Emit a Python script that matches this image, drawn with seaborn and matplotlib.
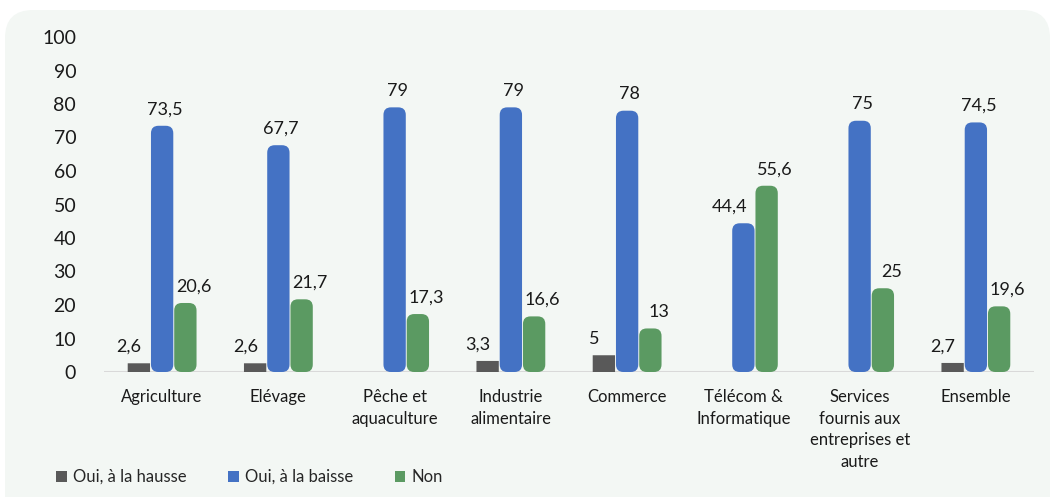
import numpy as np
import pandas as pd
import matplotlib
matplotlib.use("Agg")
import matplotlib.pyplot as plt
from matplotlib.patches import FancyBboxPatch, Patch
import seaborn as sns

categories = ["Agriculture", "Elévage", "Pêche et\naquaculture", "Industrie\nalimentaire",
              "Commerce", "Télécom &\nInformatique", "Services\nfournis aux\nentreprises et\nautre",
              "Ensemble"]
hausse = [2.6, 2.6, np.nan, 3.3, 5.0, np.nan, np.nan, 2.7]
baisse = [73.5, 67.7, 79.0, 79.0, 78.0, 44.4, 75.0, 74.5]
non = [20.6, 21.7, 17.3, 16.6, 13.0, 55.6, 25.0, 19.6]
series = ["Oui, à la hausse", "Oui, à la baisse", "Non"]
colors = ["#595959", "#4472C4", "#5B9A62"]
yticks = [0, 10, 20, 30, 40, 50, 60, 70, 80, 90, 100]

df = pd.DataFrame({
    "cat": categories * 3,
    "serie": [series[0]] * 8 + [series[1]] * 8 + [series[2]] * 8,
    "val": hausse + baisse + non,
})

sns.set_theme(style="white")
plt.rcParams["font.family"] = ["Lato", "DejaVu Sans"]

W, H = 1056, 497
fig = plt.figure(figsize=(W / 100, H / 100), dpi=100)
fig.patch.set_facecolor("white")

# rounded panel behind the chart
panel = FancyBboxPatch((5 / W, -30 / H), 1045 / W, 517 / H,
                       boxstyle="round,pad=0,rounding_size=%f" % (28 / W),
                       mutation_aspect=W / H, transform=fig.transFigure,
                       facecolor="#F3F7F4", edgecolor="none", zorder=-5)
fig.patches.append(panel)

x0, x1 = 104, 1034
y0, y1 = 372, 37
ax = fig.add_axes([x0 / W, 1 - y0 / H, (x1 - x0) / W, (y0 - y1) / H])
ax.set_facecolor("none")
ax.set_zorder(2)

sns.barplot(data=df, x="cat", y="val", hue="serie", hue_order=series,
            palette=colors, order=categories, width=0.6, gap=0.04,
            saturation=1, legend=False, ax=ax, errorbar=None)

ax.set_xlim(-0.5, 7.5)
ax.set_ylim(0, 100)

# pixel scale for rounded bar corners
px_x = (x1 - x0) / 8.0
px_y = (y0 - y1) / 100.0
radius_px = 7.5

# horizontal nudge of value labels per series (points)
label_dx = [-7, 2, 6]

for patch in list(ax.patches):
    h = patch.get_height()
    if not np.isfinite(h) or h <= 0:
        patch.set_visible(False)
        continue
    x, w = patch.get_x(), patch.get_width()
    fc = patch.get_facecolor()
    patch.set_visible(False)

    cx = x + w / 2
    gi = int(round(cx))
    si = int(round((cx - gi) / w)) + 1

    h_px = h * px_y
    r_px = 0.0 if si == 0 else min(radius_px, h_px / 2, w * px_x / 2)
    rb = FancyBboxPatch((x, 0), w, h,
                        boxstyle="round,pad=0,rounding_size=%f" % (r_px / px_x),
                        mutation_aspect=px_x / px_y,
                        facecolor=fc, edgecolor="none", zorder=3)
    ax.add_patch(rb)

    dx = label_dx[si]
    if si == 1 and non[gi] > h:
        dx = -10
    lbl = ("%g" % h).replace(".", ",")
    ax.annotate(lbl, (cx, h), xytext=(dx, 6), textcoords="offset points",
                ha="center", va="bottom", fontsize=13, color="#1a1a1a")

ax.axhline(0, color="#D9D9D9", lw=2.2, zorder=2)

ax.set_yticks(yticks)
ax.set_yticklabels([str(t) for t in yticks], fontsize=14, color="#1a1a1a")
ax.tick_params(axis="y", length=0, pad=20)
ax.tick_params(axis="x", length=0, pad=12)
ax.set_xticks(range(len(categories)))
ax.set_xticklabels(categories, fontsize=12, color="#1a1a1a", linespacing=1.45, va="top")
ax.set_xlabel("")
ax.set_ylabel("")
for s in ax.spines.values():
    s.set_visible(False)

handles = [Patch(facecolor=c, edgecolor="none") for c in colors]
fig.legend(handles, series, loc="lower left", bbox_to_anchor=(56 / W, 12 / H),
           ncol=3, frameon=False, fontsize=12, handlelength=0.65, handleheight=0.65,
           handletextpad=0.35, columnspacing=2.5, borderpad=0, borderaxespad=0)

fig.savefig("out.png", dpi=100, facecolor="white")
